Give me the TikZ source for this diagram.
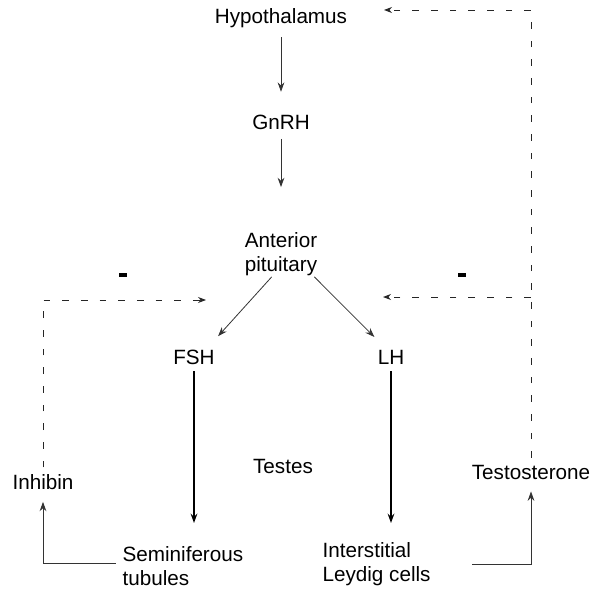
\documentclass[tikz,border=0pt]{standalone}
\usepackage{fontspec}
\setmainfont{Liberation Sans}
\usetikzlibrary{arrows.meta, positioning}
\tikzset {
  label/.style = {font=\fontsize{15.5}{17.5}\selectfont, inner sep=1pt, align=center},
  leftlabel/.style = {label, align=left, anchor=west},
  line/.style = {-{Stealth[length=7pt, width=5pt]}, color=black!80, line width=0.6pt},
  thickline/.style = {-{Stealth[length=7pt, width=5pt]}, line width=1.3pt, color=black},
  dline/.style = {-{Stealth[length=6pt, width=4.5pt]}, color=black!85, line width=0.7pt, dash pattern=on 5pt off 9pt},
  minus/.style = {fill=black, minimum width=6pt, minimum height=2.5pt, inner sep=0pt}
}

\begin{document}
\begin{tikzpicture}[x=0.75pt, y=-0.75pt]
    \useasboundingbox (0,0) rectangle (592,595);
    \node[label, name=hyp] (hyp) at (281,18) {Hypothalamus};
    \node[label, name=gnrh] (gnrh) at (281,122) {GnRH};
    \node[label, name=ant] (ant) at (281,254) {Anterior\\pituitary};
    \node[label, name=fsh] (fsh) at (194,357) {FSH};
    \node[label, name=lh] (lh) at (391,357) {LH};
    \node[label, name=testes] (testes) at (283,466) {Testes};
    \node[label, name=inhibin] (inhibin) at (43,482) {Inhibin};
    \node[label, name=testo] (testo) at (531,472) {Testosterone};
    \node[leftlabel, name=semi] (semi) at (121,566) {Seminiferous\\tubules};
    \node[leftlabel, name=leydig] (leydig) at (321,564) {Interstitial\\Leydig cells};
    \node[minus, name=minusl] (minusl) at (123,275) {};
    \node[minus, name=minusr] (minusr) at (462,275) {};

    % feedback ends
    \coordinate (fshin) at (206,300);
    \coordinate (lhin) at (383,297);
    \coordinate (hypin) at (384,10);

    \draw[line, shorten <=6pt, shorten >=16pt] (hyp.south) -- (gnrh.north);
    \draw[line, shorten <=6pt, shorten >=33pt] (gnrh.south) -- (ant.north);
    \draw[line, shorten >=12pt] ([xshift=-7pt]ant.south) -- ([xshift=10pt]fsh.north);
    \draw[line, shorten >=12pt] ([xshift=25pt]ant.south) -- ([xshift=-4pt]lh.north);
    \draw[thickline, shorten <=4pt] (fsh.south) -- (fsh.south |- 0,523);
    \draw[thickline, shorten <=4pt] (lh.south) -- (lh.south |- 0,523);

    \draw[line, shorten <=4pt, shorten >=8pt] ([yshift=2pt]semi.west) -| (inhibin.south);
    \draw[line, shorten <=30pt, shorten >=8pt] (leydig.east) -| (testo.south);

    \draw[dline, shorten <=4pt] (inhibin.north) |- (fshin);
    \draw[dline, shorten <=4pt] (testo.north) |- (hypin);
    \draw[dline] (testo.north |- lhin) -- (lhin);
\end{tikzpicture}
\end{document}
